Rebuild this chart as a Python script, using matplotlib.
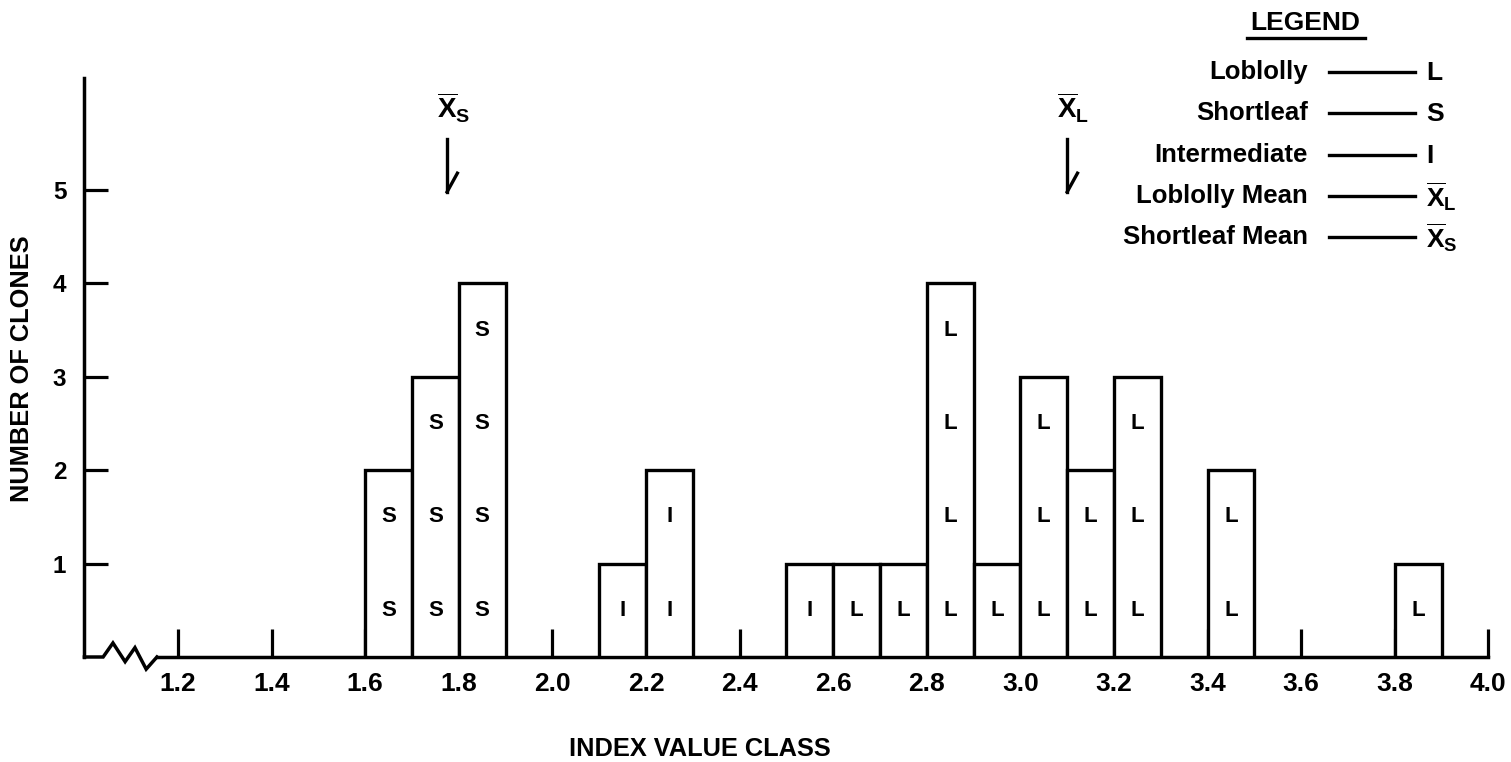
import matplotlib
matplotlib.use("Agg")
import matplotlib.pyplot as plt
from matplotlib.lines import Line2D

# ---------------- data ----------------
bin_left = [1.6, 1.7, 1.8, 2.1, 2.2, 2.5, 2.6, 2.7, 2.8, 2.9, 3.0, 3.1, 3.2, 3.4, 3.8]
counts = [2, 3, 4, 1, 2, 1, 1, 1, 4, 1, 3, 2, 3, 2, 1]
species = ['S', 'S', 'S', 'I', 'I', 'I', 'L', 'L', 'L', 'L', 'L', 'L', 'L', 'L', 'L']
bin_width = 0.1
mean_shortleaf = 1.775
mean_loblolly = 3.10
x_ticks = [1.2, 1.4, 1.6, 1.8, 2.0, 2.2, 2.4, 2.6, 2.8, 3.0, 3.2, 3.4, 3.6, 3.8, 4.0]
x_ticklabels = ['1.2', '1.4', '1.6', '1.8', '2.0', '2.2', '2.4', '2.6', '2.8', '3.0',
                '3.2', '3.4', '3.6', '3.8', '4.0']
y_ticks = [1, 2, 3, 4, 5]
legend_names = ['Loblolly', 'Shortleaf', 'Intermediate', 'Loblolly Mean', 'Shortleaf Mean']
legend_symbols = ['L', 'S', 'I', r'$\overline{\mathrm{X}}_{\mathrm{L}}$',
                  r'$\overline{\mathrm{X}}_{\mathrm{S}}$']

# ---------------- style ----------------
plt.rcParams['font.family'] = ['Liberation Sans', 'DejaVu Sans']
plt.rcParams['font.weight'] = 'bold'
plt.rcParams['mathtext.fontset'] = 'custom'
plt.rcParams['mathtext.rm'] = 'Liberation Sans:bold'
plt.rcParams['mathtext.it'] = 'Liberation Sans:bold'
plt.rcParams['mathtext.bf'] = 'Liberation Sans:bold'

W, H = 1511, 762
fig = plt.figure(figsize=(W / 100, H / 100), dpi=100)

y_top = 6.2
unit_px = 93.4
x0_px, x1_px = 84.4, 1488.4
y0_px = 657
ax = fig.add_axes([x0_px / W, 1 - y0_px / H, (x1_px - x0_px) / W, y_top * unit_px / H])
ax.set_xlim(1.0, 4.0)
ax.set_ylim(0, y_top)
ax.set_facecolor('none')


def px(x, y):
    return (x / W, 1 - y / H)


lw_axis = 2.5
for s in ['top', 'right']:
    ax.spines[s].set_visible(False)
ax.spines['left'].set_linewidth(lw_axis)
ax.spines['bottom'].set_linewidth(lw_axis)
ax.spines['bottom'].set_bounds(1.155, 4.0)

# axis break zigzag
zz_x = [1.0, 1.040, 1.061, 1.087, 1.108, 1.132, 1.155]
zz_y = [0.0, 0.0, 0.15, -0.05, 0.10, -0.13, 0.0]
ax.add_line(Line2D(zz_x, zz_y, color='black', lw=lw_axis, clip_on=False,
                   solid_joinstyle='miter'))

# ticks
ax.set_xticks(x_ticks)
ax.set_xticklabels(x_ticklabels, fontsize=19, fontweight='bold')
ax.set_yticks(y_ticks)
ax.set_yticklabels([str(v) for v in y_ticks], fontsize=17.5, fontweight='bold')
ax.tick_params(axis='x', direction='in', length=20, width=2.3, pad=11)
ax.tick_params(axis='y', direction='in', length=17, width=2.3, pad=13)

# bars
bars = ax.bar(bin_left, counts, width=bin_width, align='edge', facecolor='white',
              edgecolor='black', linewidth=2.4, zorder=3)
for left, n, sp in zip(bin_left, counts, species):
    for k in range(n):
        ax.text(left + bin_width / 2, k + 0.5, sp, ha='center', va='center',
                fontsize=16, fontweight='bold', zorder=4)

# mean markers
for m, sub in [(mean_shortleaf, 'S'), (mean_loblolly, 'L')]:
    ax.add_line(Line2D([m, m], [5.55, 4.98], color='black', lw=2.4, clip_on=False))
    ax.add_line(Line2D([m, m + 0.022], [4.98, 5.18], color='black', lw=2.4,
                       clip_on=False))
    ax.text(m + 0.013, 5.88, r'$\overline{\mathrm{X}}_{\mathrm{%s}}$' % sub,
            ha='center', va='center', fontsize=20, clip_on=False)

# axis labels
fig.text(*px(22, 369), 'NUMBER OF CLONES', rotation=90, ha='center', va='center',
         fontsize=18.3, fontweight='bold')
fig.text(*px(700, 749), 'INDEX VALUE CLASS', ha='center', va='center',
         fontsize=18.3, fontweight='bold')

# legend
fig.text(*px(1305, 23), 'LEGEND', ha='center', va='center', fontsize=19,
         fontweight='bold')
fig.add_artist(Line2D([1247 / W, 1365 / W], [1 - 38 / H, 1 - 38 / H],
                      color='black', lw=2.4))
row_y = [72, 113, 155, 196, 237]
for name, sym, yc in zip(legend_names, legend_symbols, row_y):
    fig.text(*px(1308, yc), name, ha='right', va='center', fontsize=18.5,
             fontweight='bold')
    fig.add_artist(Line2D([1329 / W, 1415 / W], [1 - yc / H, 1 - yc / H],
                          color='black', lw=2.4))
    fig.text(*px(1426, yc + 1), sym, ha='left', va='center', fontsize=19,
             fontweight='bold')

fig.savefig('out.png', dpi=100)
